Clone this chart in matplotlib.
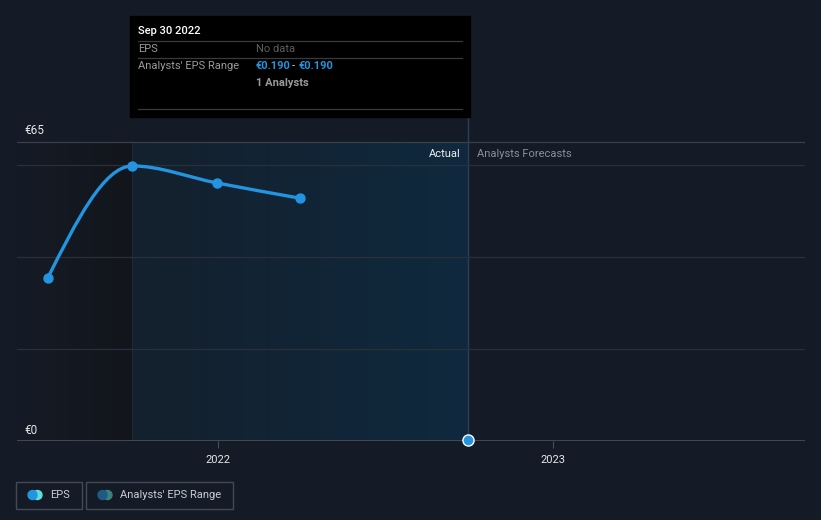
import datetime as dt
import matplotlib
matplotlib.use('Agg')
import matplotlib.pyplot as plt
import matplotlib.dates as mdates
import numpy as np
from matplotlib.path import Path
from matplotlib.patches import PathPatch, Rectangle, Ellipse

plt.rcParams['font.family'] = ['Roboto', 'DejaVu Sans']

# data
eps_dates = ['2021-06-30', '2021-09-30', '2021-12-31', '2022-03-31']
eps_values = [35.4, 59.8, 56.1, 52.8]
forecast_dates = ['2022-09-30']
forecast_values = [0.19]
y_ticks = [0, 65]
y_tick_labels = ['€0', '€65']
grid_values = [20, 40, 60]
x_ticks = ['2022-01-01', '2023-01-01']
x_tick_labels = ['2022', '2023']
past_start = '2021-09-30'
today = '2022-09-30'

BG = '#151b26'
W, H = 821, 520


def d(s):
    return mdates.date2num(dt.datetime.strptime(s, '%Y-%m-%d'))


def fx(px):
    return px / W


def fy(py):
    return 1 - py / H


def monotone_path(x, y):
    # d3 style monotone-x curve as bezier segments
    x = np.asarray(x, float)
    y = np.asarray(y, float)
    n = len(x)
    h = np.diff(x)
    s = np.diff(y) / h
    m = np.zeros(n)
    for i in range(1, n - 1):
        if s[i - 1] * s[i] > 0:
            p = (s[i - 1] * h[i] + s[i] * h[i - 1]) / (h[i - 1] + h[i])
            m[i] = np.sign(s[i - 1]) * min(abs(s[i - 1]), abs(s[i]), 0.5 * abs(p)) * 2
    m[0] = (3 * s[0] - m[1]) / 2 if n > 2 else s[0]
    m[-1] = (3 * s[-1] - m[-2]) / 2 if n > 2 else s[-1]
    verts = [(x[0], y[0])]
    codes = [Path.MOVETO]
    for i in range(n - 1):
        dx = h[i] / 3
        verts += [(x[i] + dx, y[i] + m[i] * dx), (x[i + 1] - dx, y[i + 1] - m[i + 1] * dx), (x[i + 1], y[i + 1])]
        codes += [Path.CURVE4] * 3
    return Path(verts, codes)


def gradient(c0, c1):
    g = np.linspace(0, 1, 256)[None, :, None]
    a = np.array(matplotlib.colors.to_rgb(c0))[None, None, :]
    b = np.array(matplotlib.colors.to_rgb(c1))[None, None, :]
    return a * (1 - g) + b * g


fig = plt.figure(figsize=(W / 100, H / 100), dpi=100, facecolor=BG)
ax = fig.add_axes([fx(17), fy(441), fx(805 - 17), (441 - 117) / H])
ax.set_facecolor(BG)
x_left = d('2022-01-01') - 201 / 336 * 365
x_right = d('2022-01-01') + 588 / 336 * 365
y_top = (441 - 117) / 4.6
ax.set_xlim(x_left, x_right)
ax.set_ylim(0, y_top)
for s in ax.spines.values():
    s.set_visible(False)
ax.set_yticks([])
ax.set_xticks([d(t) for t in x_ticks])
ax.set_xticklabels(x_tick_labels, color='#e6e6e6', fontsize=8)
ax.tick_params(axis='x', length=5, color='#4a505c', pad=5)

# background regions
top = y_ticks[1]
ax.imshow(gradient(BG, '#12151b'), extent=[x_left, d(past_start), 0, top], aspect='auto', zorder=0.5)
ax.imshow(gradient('#14202d', '#0f293e'), extent=[d(past_start), d(today), 0, top], aspect='auto', zorder=0.5)
ax.plot([d(past_start)] * 2, [0, top], color='#1c2b3a', lw=0.8, zorder=1)
ax.axvline(d(today), color='#2b3f54', lw=1, zorder=1)

for g in grid_values:
    ax.axhline(g, color='#2a303b', lw=0.9, zorder=1)
ax.axhline(top, color='#3a404b', lw=0.9, zorder=1)
ax.axhline(0, color='#4a505c', lw=1.2, zorder=2)

ex = [d(t) for t in eps_dates]
ax.add_patch(PathPatch(monotone_path(ex, eps_values), fill=False, ec='#2394df', lw=2.4, zorder=3, capstyle='round'))
ax.plot(ex, eps_values, 'o', color='#2394df', ms=6.5, zorder=4)
ax.plot([d(t) for t in forecast_dates], forecast_values, 'o', color='#2394df', mec='white', mew=1, ms=8, zorder=5, clip_on=False)

# y labels
for v, lab in zip(y_ticks, y_tick_labels):
    py = 441 - v * 4.6 - 11
    fig.text(fx(24), fy(py), lab, color='#e6e6e6', fontsize=8.5, va='center')

fig.text(fx(461), fy(154), 'Actual', color='#eeeeee', fontsize=8, ha='right', va='center')
fig.text(fx(477), fy(154), 'Analysts Forecasts', color='#8a9099', fontsize=8, va='center')

# tooltip
fig.patches.append(Rectangle((fx(130), fy(117)), fx(340), (117 - 16) / H, transform=fig.transFigure, color='black', zorder=10))
for py in (41, 58, 109):
    fig.add_artist(plt.Line2D([fx(138), fx(462)], [fy(py), fy(py)], color='#3a3a3a', lw=0.9, zorder=11))
fig.text(fx(138), fy(31), 'Sep 30 2022', color='white', fontsize=8, fontweight='medium', va='center', zorder=12)
fig.text(fx(138), fy(49), 'EPS', color='#9a9a9a', fontsize=8, va='center', zorder=12)
fig.text(fx(256), fy(49), 'No data', color='#5e5e5e', fontsize=8, va='center', zorder=12)
fig.text(fx(138), fy(66), "Analysts' EPS Range", color='#9a9a9a', fontsize=8, va='center', zorder=12)
fig.text(fx(256), fy(66), '€0.190', color='#2394df', fontsize=8, fontweight='bold', va='center', zorder=12)
fig.text(fx(292), fy(66), '-', color='#cccccc', fontsize=8, va='center', zorder=12)
fig.text(fx(299), fy(66), '€0.190', color='#2394df', fontsize=8, fontweight='bold', va='center', zorder=12)
fig.text(fx(256), fy(83), '1 Analysts', color='#9a9a9a', fontsize=8, fontweight='bold', va='center', zorder=12)

# legend
legend_items = [('EPS', 16, 82, '#2394df', '#5ce0d8'), ("Analysts' EPS Range", 86, 233, '#1f5a82', '#3d8080')]
for lab, x0, x1, ca, cb in legend_items:
    fig.patches.append(Rectangle((fx(x0), fy(509)), fx(x1 - x0), 27 / H, transform=fig.transFigure,
                                 fill=False, ec='#434955', lw=1))
    for cx, c in ((x0 + 21.5, cb), (x0 + 16.5, ca)):
        fig.patches.append(Ellipse((fx(cx), fy(495)), 9 / W, 9 / H, transform=fig.transFigure, color=c))
    fig.text(fx(x0 + 34), fy(495.5), lab, color='#c8ccd2', fontsize=8, va='center')

fig.savefig('out.png', dpi=100, facecolor=BG)
